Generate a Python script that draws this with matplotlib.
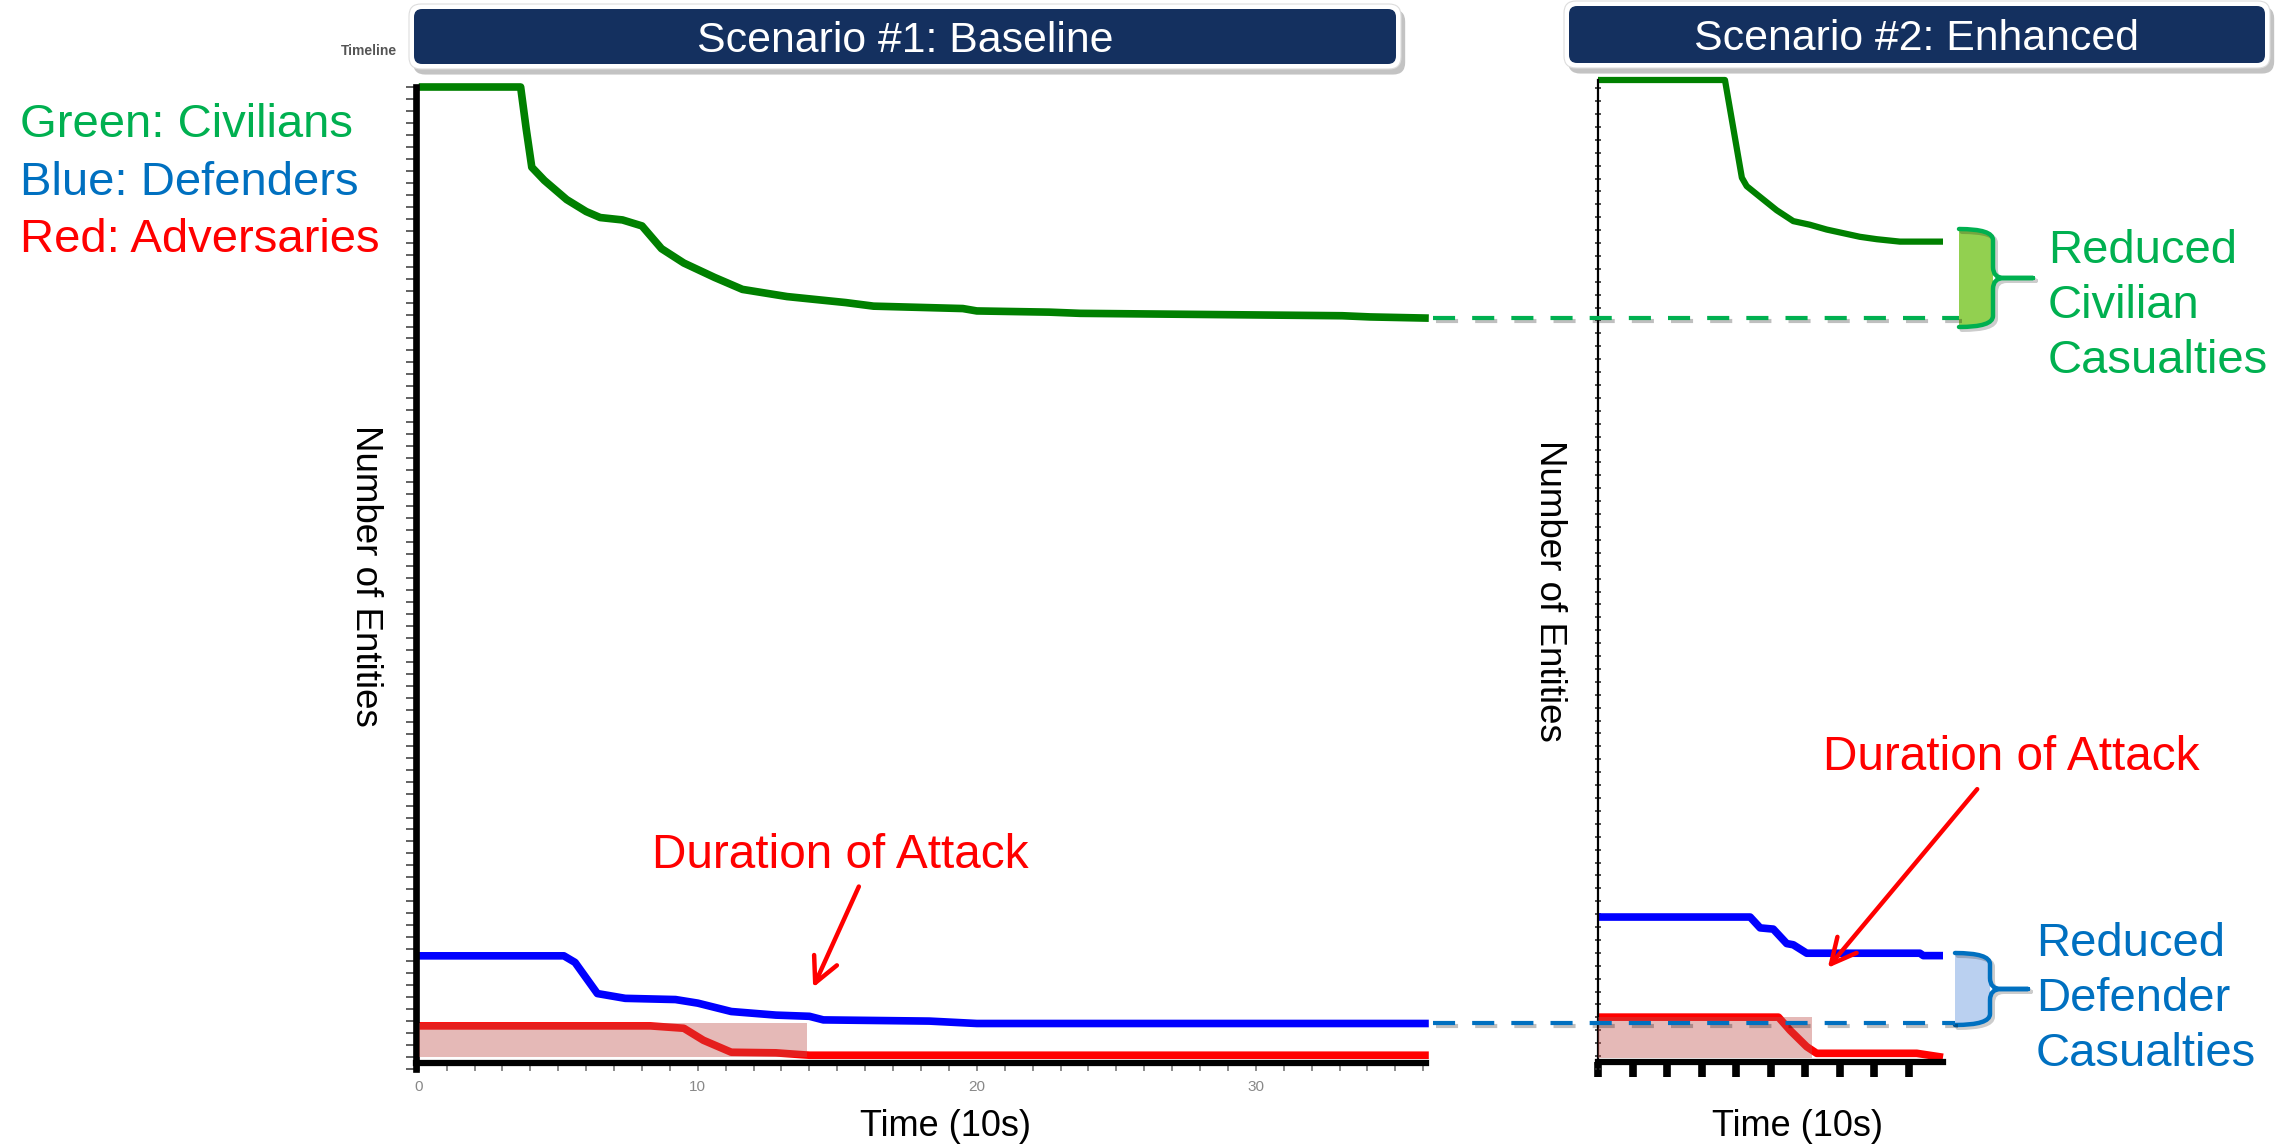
import numpy as np
import matplotlib
matplotlib.use("Agg")
import matplotlib.pyplot as plt
from matplotlib.patches import FancyBboxPatch, Rectangle, PathPatch, FancyArrowPatch
from matplotlib.path import Path
from matplotlib.lines import Line2D
from matplotlib.ticker import MultipleLocator, FixedLocator
from matplotlib.transforms import IdentityTransform
import matplotlib.patheffects as pe

plt.rcParams['font.family'] = ['Liberation Sans', 'DejaVu Sans']

# canvas size in pixels
W, H = 2286, 1146

# scenario 1 (baseline), time in units of 10 s
t_civ_1 = [0, 3.65, 3.85, 4.05, 4.5, 5.3, 6.0, 6.5, 7.3, 8.0, 8.7, 9.5, 10.6, 11.6,
           13.2, 15.3, 16.3, 19.5, 20.0, 22.6, 23.7, 33.1, 34.1, 36.2]
civ_1 = [82, 82, 78.5, 75.3, 74.2, 72.6, 71.6, 71.1, 70.9, 70.4, 68.5, 67.3, 66.1, 65.1,
         64.5, 64.0, 63.7, 63.5, 63.3, 63.2, 63.1, 62.9, 62.8, 62.7]
t_def_1 = [0, 5.2, 5.6, 6.0, 6.4, 7.4, 9.2, 10.0, 11.2, 12.8, 14.0, 14.5, 18.3, 20.0, 36.2]
def_1 = [9.45, 9.45, 8.9, 7.6, 6.3, 5.9, 5.8, 5.5, 4.8, 4.5, 4.4, 4.1, 4.0, 3.8, 3.8]
t_adv_1 = [0, 8.3, 9.5, 10.2, 11.2, 12.8, 14.0, 36.2]
adv_1 = [3.6, 3.6, 3.4, 2.4, 1.4, 1.35, 1.15, 1.15]
attack_time_1 = [0, 13.9]
attack_band_1 = [1.0, 3.84]

# scenario 2 (enhanced)
t_civ_2 = [0, 3.68, 4.17, 4.31, 4.70, 5.18, 5.66, 6.14, 6.63, 7.11, 7.59, 8.08, 8.75, 10.0]
civ_2 = [82, 82, 73.9, 73.2, 72.3, 71.2, 70.3, 70.0, 69.6, 69.3, 69.0, 68.8, 68.6, 68.6]
t_def_2 = [0, 4.41, 4.70, 5.08, 5.47, 5.66, 6.05, 9.33, 9.43, 10.0]
def_2 = [12.6, 12.6, 11.7, 11.6, 10.4, 10.3, 9.6, 9.6, 9.4, 9.4]
t_adv_2 = [0, 5.23, 5.57, 6.05, 6.34, 9.24, 10.0]
adv_2 = [4.3, 4.3, 3.2, 1.85, 1.3, 1.3, 0.97]
attack_time_2 = [0, 6.19]
attack_band_2 = [0.89, 4.29]

titles = ["Scenario #1: Baseline", "Scenario #2: Enhanced"]
legend_lines = ["Green: Civilians", "Blue: Defenders", "Red: Adversaries"]

GREEN_TXT = '#00B050'
BLUE_TXT = '#0070C0'
RED_TXT = '#FF0000'
NAVY = '#14305f'

fig = plt.figure(figsize=(W / 100, H / 100), dpi=100)


def frac(x0, y0, x1, y1):
    # pixel box (top-left origin) -> figure fraction rect
    return [x0 / W, 1 - y1 / H, (x1 - x0) / W, (y1 - y0) / H]


def px(x, y):
    return (x, H - y)


# ---- left panel ----
axL = fig.add_axes(frac(416, 87, 1426, 1069))
axL.set_xlim(-0.1, 36.1)
axL.set_ylim(0, 82)
axL.plot(t_civ_1, civ_1, color='#008000', lw=5.5, clip_on=False, solid_capstyle='butt')
axL.plot(t_def_1, def_1, color='#0000FF', lw=5.5, clip_on=False, solid_capstyle='butt')
axL.plot(t_adv_1, adv_1, color='#FF0000', lw=5.5, clip_on=False, solid_capstyle='butt')
axL.add_patch(Rectangle((attack_time_1[0], attack_band_1[0]),
                        attack_time_1[1] - attack_time_1[0],
                        attack_band_1[1] - attack_band_1[0],
                        facecolor='#c0504d', alpha=0.4, edgecolor='none', zorder=3))
for s in ['top', 'right']:
    axL.spines[s].set_visible(False)
axL.spines['left'].set_linewidth(4.8)
axL.spines['bottom'].set_linewidth(4.5)
axL.spines['bottom'].set_position(('data', 0.5))
axL.yaxis.set_major_locator(MultipleLocator(1))
axL.tick_params(axis='y', direction='out', length=7, width=1.3, color='#555555',
                labelleft=False)
axL.xaxis.set_major_locator(MultipleLocator(10))
axL.xaxis.set_minor_locator(MultipleLocator(1))
axL.tick_params(axis='x', which='both', direction='out', length=6, width=1.2,
                color='#777777', labelsize=11, labelcolor='#888888', pad=6)
axL.set_facecolor('none')

# ---- right panel ----
axR = fig.add_axes(frac(1598, 80, 1943, 1069))
axR.set_xlim(0, 10)
axR.set_ylim(0, 82)
axR.plot(t_civ_2, civ_2, color='#008000', lw=4.5, clip_on=False, solid_capstyle='butt')
axR.plot(t_def_2, def_2, color='#0000FF', lw=5.5, clip_on=False, solid_capstyle='butt')
axR.plot(t_adv_2, adv_2, color='#FF0000', lw=5.5, clip_on=False, solid_capstyle='butt')
axR.add_patch(Rectangle((attack_time_2[0], attack_band_2[0]),
                        attack_time_2[1] - attack_time_2[0],
                        attack_band_2[1] - attack_band_2[0],
                        facecolor='#c0504d', alpha=0.4, edgecolor='none', zorder=3))
for s in ['top', 'right']:
    axR.spines[s].set_visible(False)
axR.spines['left'].set_linewidth(1.6)
axR.spines['bottom'].set_linewidth(4.5)
axR.spines['bottom'].set_position(('data', 0.55))
axR.yaxis.set_major_locator(FixedLocator(np.arange(0, 82, 1.07)))
axR.tick_params(axis='y', direction='inout', length=5, width=1.2, color='#333333',
                labelleft=False)
axR.xaxis.set_major_locator(FixedLocator(np.arange(0, 10, 1)))
axR.tick_params(axis='x', direction='out', length=11, width=5.5, color='black',
                labelbottom=False)
axR.set_facecolor('none')

# ---- axis titles ----
fig.text(366 / W, 1 - 576 / H, "Number of Entities", rotation=270, fontsize=26.5,
         ha='center', va='center')
fig.text(1549 / W, 1 - 591 / H, "Number of Entities", rotation=270, fontsize=26.5,
         ha='center', va='center')
fig.text(945 / W, 1 - 1126 / H, "Time (10s)", fontsize=26, ha='center', va='center')
fig.text(1797 / W, 1 - 1126 / H, "Time (10s)", fontsize=26, ha='center', va='center')
fig.text(397 / W, 1 - 51 / H, "Timeline", fontsize=10, ha='right', va='center',
         color='#555555', fontweight='bold')

# ---- legend text ----
for txt, col, yy in zip(legend_lines, [GREEN_TXT, BLUE_TXT, RED_TXT], [125, 183, 240]):
    fig.text(20 / W, 1 - yy / H, txt, color=col, fontsize=34, ha='left', va='center')

# ---- header boxes ----
for (x0, y0, x1, y1), title in zip([(414, 9, 1396, 64), (1569, 6, 2265, 63)], titles):
    outer = FancyBboxPatch(px(x0 - 5, y1 + 5), (x1 - x0) + 10, (y1 - y0) + 10,
                           boxstyle='round,pad=0,rounding_size=12',
                           facecolor='white', edgecolor='#dddddd', lw=0.8,
                           transform=IdentityTransform(),
                           path_effects=[pe.withSimplePatchShadow(offset=(3, -4),
                                                                  shadow_rgbFace='#888888',
                                                                  alpha=0.5)])
    fig.add_artist(outer)
    inner = FancyBboxPatch(px(x0, y1), x1 - x0, y1 - y0,
                           boxstyle='round,pad=0,rounding_size=8',
                           facecolor=NAVY, edgecolor='none',
                           transform=IdentityTransform())
    fig.add_artist(inner)
    fig.text(((x0 + x1) / 2) / W, 1 - ((y0 + y1) / 2 + 4) / H, title, color='white',
             fontsize=30.8, ha='center', va='center')

# ---- dashed reference lines from the baseline end values ----
fig.canvas.draw()
for t_end, v_end, col, x_stop in [(t_civ_1[-1], civ_1[-1], GREEN_TXT, 1959),
                                  (t_def_1[-1], def_1[-1], BLUE_TXT, 1955)]:
    p = axL.transData.transform((t_end, v_end))
    ln = Line2D([p[0] + 4, x_stop], [p[1], p[1]], color=col, lw=3,
                dashes=(5.3, 4.1), transform=IdentityTransform(),
                path_effects=[pe.SimpleLineShadow(offset=(2, -2), alpha=0.25),
                              pe.Normal()])
    fig.add_artist(ln)


# ---- braces ----
def brace(x0, y0, y1, xb, xt, edge, face):
    ym = (y0 + y1) / 2
    r = 11
    fill_verts = [px(x0, y0), px(xb, y0), px(xb, y0 + r), px(xb, y1 - r),
                  px(xb, y1), px(x0, y1), px(x0, y0)]
    fill_codes = [Path.MOVETO, Path.CURVE3, Path.CURVE3, Path.LINETO,
                  Path.CURVE3, Path.CURVE3, Path.CLOSEPOLY]
    fig.add_artist(PathPatch(Path(fill_verts, fill_codes), facecolor=face,
                             edgecolor='none', transform=IdentityTransform()))
    verts = [px(x0, y0), px(xb, y0), px(xb, y0 + r),
             px(xb, ym - r), px(xb, ym), px(xb + r, ym), px(xt, ym),
             px(xb + r, ym), px(xb, ym), px(xb, ym + r),
             px(xb, y1 - r), px(xb, y1), px(x0, y1)]
    codes = [Path.MOVETO, Path.CURVE3, Path.CURVE3,
             Path.LINETO, Path.CURVE3, Path.CURVE3, Path.LINETO,
             Path.LINETO, Path.CURVE3, Path.CURVE3,
             Path.LINETO, Path.CURVE3, Path.CURVE3]
    fig.add_artist(PathPatch(Path(verts, codes), facecolor='none', edgecolor=edge,
                             lw=3.2, capstyle='round', joinstyle='round',
                             transform=IdentityTransform(),
                             path_effects=[pe.SimpleLineShadow(offset=(2, -2), alpha=0.2),
                                           pe.Normal()]))


brace(1959, 229, 327, 1993, 2033, GREEN_TXT, '#92D050')
brace(1955, 953, 1025, 1990, 2028, BLUE_TXT, '#BAD0F0')

fig.text(2048 / W, 1 - 306 / H, "Reduced\nCivilian\nCasualties", color=GREEN_TXT,
         fontsize=34, ha='left', va='center', linespacing=1.32)
fig.text(2036 / W, 1 - 999 / H, "Reduced\nDefender\nCasualties", color=BLUE_TXT,
         fontsize=34, ha='left', va='center', linespacing=1.32)

# ---- duration of attack callouts ----
fig.text(840 / W, 1 - 856 / H, "Duration of Attack", color=RED_TXT, fontsize=34.4,
         ha='center', va='center')
fig.text(2011 / W, 1 - 758 / H, "Duration of Attack", color=RED_TXT, fontsize=34.4,
         ha='center', va='center')
for (xs, ys), (xe, ye) in [((860, 884), (812, 990)), ((1979, 787), (1826, 970))]:
    arr = FancyArrowPatch(px(xs, ys), px(xe, ye), arrowstyle='->,head_length=0.9,head_width=0.45',
                          mutation_scale=20, color=RED_TXT, lw=3.2,
                          transform=IdentityTransform())
    fig.add_artist(arr)

fig.savefig('out.png', dpi=100)
